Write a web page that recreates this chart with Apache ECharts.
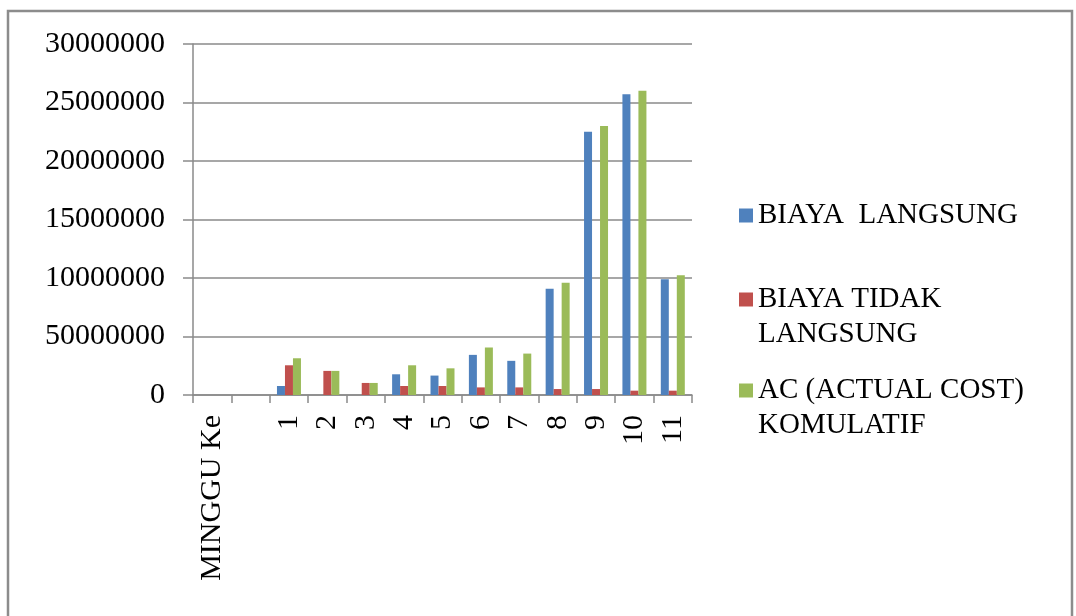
<!DOCTYPE html>
<html>
<head>
<meta charset="utf-8">
<script src="https://cdn.jsdelivr.net/npm/echarts@6/dist/echarts.min.js"></script>
<style>
html,body{margin:0;padding:0;background:#fff;}
#chart{width:1076px;height:616px;}
</style>
</head>
<body>
<div id="chart"></div>
<script>
var categories = ["MINGGU Ke", "", "1", "2", "3", "4", "5", "6", "7", "8", "9", "10", "11"];
var seriesNames = ["BIAYA  LANGSUNG", "BIAYA TIDAK LANGSUNG", "AC (ACTUAL COST) KOMULATIF"];
var legendLabels = ["BIAYA  LANGSUNG", " \nBIAYA TIDAK\nLANGSUNG", " \nAC (ACTUAL COST)\nKOMULATIF"];
var biayaLangsung = [null, null, 770000, 0, 0, 1770000, 1660000, 3430000, 2920000, 9090000, 22500000, 25700000, 9890000];
var biayaTidakLangsung = [null, null, 2540000, 2060000, 1030000, 770000, 770000, 650000, 650000, 510000, 510000, 370000, 370000];
var acKomulatif = [null, null, 3140000, 2060000, 1030000, 2540000, 2280000, 4060000, 3540000, 9600000, 23000000, 26000000, 10230000];
var yTickLabels = ["0", "50000000", "10000000", "15000000", "20000000", "25000000", "30000000"];
var colors = ["#4F81BD", "#C0504D", "#9BBB59"];

var FONT = "Liberation Serif";
var chart = echarts.init(document.getElementById('chart'));

function legendFor(i, top) {
  return {
    data: [seriesNames[i]],
    left: 739,
    top: top,
    orient: 'vertical',
    icon: 'rect',
    itemWidth: 14,
    itemHeight: 14,
    itemGap: 0,
    padding: 0,
    selectedMode: false,
    formatter: function () { return legendLabels[i]; },
    textStyle: {
      fontFamily: FONT,
      fontSize: 29,
      color: '#000',
      lineHeight: 35
    }
  };
}

var option = {
  backgroundColor: '#fff',
  animation: false,
  color: colors,
  grid: { left: 193, right: 384, top: 44, bottom: 221 },
  legend: [
    legendFor(0, 198),
    legendFor(1, 247),
    legendFor(2, 338)
  ],
  xAxis: {
    type: 'category',
    data: categories,
    axisLine: { show: true, lineStyle: { color: '#8a8a8a', width: 1.5 } },
    axisTick: { show: true, interval: 0, length: 8, lineStyle: { color: '#8a8a8a', width: 1.5 } },
    axisLabel: {
      interval: 0,
      rotate: 90,
      margin: 20,
      fontFamily: FONT,
      fontSize: 30,
      color: '#000'
    }
  },
  yAxis: {
    type: 'value',
    min: 0,
    max: 30000000,
    interval: 5000000,
    axisLine: { show: true, lineStyle: { color: '#8a8a8a', width: 1.5 } },
    axisTick: { show: true, length: 10, lineStyle: { color: '#8a8a8a', width: 1.5 } },
    splitLine: { show: true, lineStyle: { color: '#8a8a8a', width: 1.5 } },
    axisLabel: {
      margin: 28,
      fontFamily: FONT,
      fontSize: 30,
      color: '#000',
      formatter: function (v) { return yTickLabels[Math.round(v / 5000000)]; }
    }
  },
  series: [
    { name: seriesNames[0], type: 'bar', data: biayaLangsung, barWidth: 8, barGap: '0%' },
    { name: seriesNames[1], type: 'bar', data: biayaTidakLangsung, barWidth: 8, barGap: '0%' },
    { name: seriesNames[2], type: 'bar', data: acKomulatif, barWidth: 8, barGap: '0%' }
  ],
  graphic: [{
    type: 'rect',
    shape: { x: 8, y: 11, width: 1064, height: 640 },
    style: { fill: 'none', stroke: '#8c8c8c', lineWidth: 2.5 },
    silent: true
  }]
};
chart.setOption(option);
</script>
</body>
</html>
